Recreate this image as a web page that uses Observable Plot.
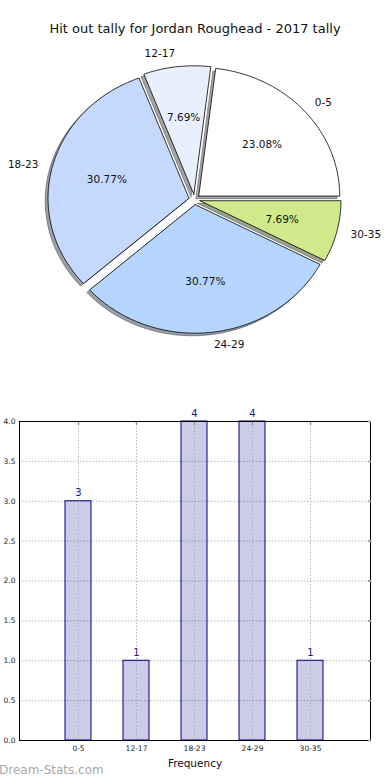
<!DOCTYPE html>
<html><head><meta charset="utf-8">
<script src="https://cdn.jsdelivr.net/npm/d3@7"></script>
<script src="https://cdn.jsdelivr.net/npm/@observablehq/plot@0.6"></script>
<style>
body{margin:0;background:#fff;font-family:"DejaVu Sans",sans-serif;}
#wrap{position:relative;width:390px;height:780px;overflow:hidden;background:#fff;}
#title{position:absolute;left:0;top:21px;width:390px;text-align:center;font-size:13px;color:#111;}
#pie{position:absolute;left:0;top:0;}
#bar{position:absolute;left:0;top:400px;}
#wm{position:absolute;left:-1px;top:763px;font-size:12px;color:#a8a8a8;}
svg{overflow:visible;}
</style></head><body><div id="wrap"><div id="pie"></div><div id="bar"></div><div id="title">Hit out tally for Jordan Roughead - 2017 tally</div><div id="wm">Dream-Stats.com</div></div>
<script>
const categories = ["0-5","12-17","18-23","24-29","30-35"];
const counts = [3,1,4,4,1];
const sliceColors = ["#ffffff","#e8f0fe","#c5d9ff","#b5d5ff","#d0ea8b"];
const yTicks = [0,0.5,1,1.5,2,2.5,3,3.5,4];
const explode = 0.04;
const shadowOffset = -0.02;

const total = d3.sum(counts);
const wedges = [], shadows = [], outerLabels = [], pctLabels = [];
let acc = 0;
counts.forEach((c, i) => {
  const t1 = acc / total * 360, t2 = (acc + c) / total * 360;
  acc += c;
  const tm = (t1 + t2) / 2 * Math.PI / 180;
  const cx = explode * Math.cos(tm), cy = explode * Math.sin(tm);
  const pts = [[cx, cy]];
  const n = Math.max(2, Math.ceil(t2 - t1));
  for (let k = 0; k <= n; k++) {
    const a = (t1 + (t2 - t1) * k / n) * Math.PI / 180;
    pts.push([cx + Math.cos(a), cy + Math.sin(a)]);
  }
  pts.push([cx, cy]);
  const col = d3.rgb(sliceColors[i]);
  const sh = d3.rgb(col.r * 0.3, col.g * 0.3, col.b * 0.3).formatHex();
  pts.forEach(p => {
    wedges.push({k: categories[i], x: p[0], y: p[1], color: sliceColors[i]});
    shadows.push({k: categories[i], x: p[0] + shadowOffset, y: p[1] + shadowOffset, color: sh});
  });
  const lx = cx + 1.1 * Math.cos(tm), ly = cy + 1.1 * Math.sin(tm);
  outerLabels.push({x: lx, y: ly, text: categories[i], left: lx > 0});
  pctLabels.push({x: cx + 0.6 * Math.cos(tm), y: cy + 0.6 * Math.sin(tm), text: (c / total * 100).toFixed(2) + "%"});
});

const PCX = 194, PCY = 199, RX = 141, RY = 128.6, PW = 390, PH = 380;
const pie = Plot.plot({
  width: PW, height: PH, margin: 0,
  style: {fontFamily: "DejaVu Sans, sans-serif", background: "transparent"},
  x: {domain: [-PCX / RX, (PW - PCX) / RX], axis: null},
  y: {domain: [-(PH - PCY) / RY, PCY / RY], axis: null},
  color: {type: "identity"},
  marks: [
    Plot.line(shadows, {x: "x", y: "y", z: "k", fill: "color", fillOpacity: 0.5, stroke: "color", strokeOpacity: 0.5, strokeWidth: 1}),
    Plot.line(wedges, {x: "x", y: "y", z: "k", fill: "color", stroke: "#000", strokeWidth: 0.8}),
    Plot.text(outerLabels.filter(d => d.left), {x: "x", y: "y", text: "text", textAnchor: "start", fontSize: 10.5, fill: "#111"}),
    Plot.text(outerLabels.filter(d => !d.left), {x: "x", y: "y", text: "text", textAnchor: "end", fontSize: 10.5, fill: "#111"}),
    Plot.text(pctLabels, {x: "x", y: "y", text: "text", fontSize: 10.5, fill: "#111"})
  ]
});
document.getElementById("pie").appendChild(pie);

const barData = categories.map((c, i) => ({cat: c, n: counts[i]}));
const grid = {stroke: "#a8a8a8", strokeOpacity: 1, strokeDasharray: "1.2,2", strokeWidth: 1};
const bar = Plot.plot({
  width: 390, height: 370, marginTop: 21, marginBottom: 30, marginLeft: 19, marginRight: 20,
  style: {fontFamily: "DejaVu Sans, sans-serif", background: "transparent"},
  x: {type: "band", domain: categories, paddingInner: 0.55, paddingOuter: 0.775},
  y: {domain: [0, 4]},
  marks: [
    Plot.gridY(yTicks, grid),
    Plot.barY(barData, {x: "cat", y: "n", fill: "navy", fillOpacity: 0.2, stroke: "navy", strokeWidth: 1}),
    Plot.gridX(categories, grid),
    Plot.frame({stroke: "#000", strokeWidth: 1}),
    Plot.axisX(categories, {anchor: "top", tickSize: -3, tickFormat: () => "", stroke: "#999", strokeWidth: 1.5, label: null}),
    Plot.axisY(yTicks, {anchor: "right", tickSize: -3, tickFormat: () => "", stroke: "#999", strokeWidth: 1.5, label: null}),
    Plot.axisY(yTicks, {tickSize: 0, tickPadding: 4, tickFormat: d3.format(".1f"), fontSize: 7.5, fill: "#222", label: null}),
    Plot.axisX(categories, {tickSize: 0, tickPadding: 5, fontSize: 7.5, fill: "#222", label: null}),
    Plot.text(["Frequency"], {frameAnchor: "bottom", dy: 26, fontSize: 10.5, fill: "#111"}),
    Plot.text(barData, {x: "cat", y: "n", text: d => String(d.n), dy: -8, fill: "#1a1a8c", fontSize: 10})
  ]
});
document.getElementById("bar").appendChild(bar);
</script></body></html>
